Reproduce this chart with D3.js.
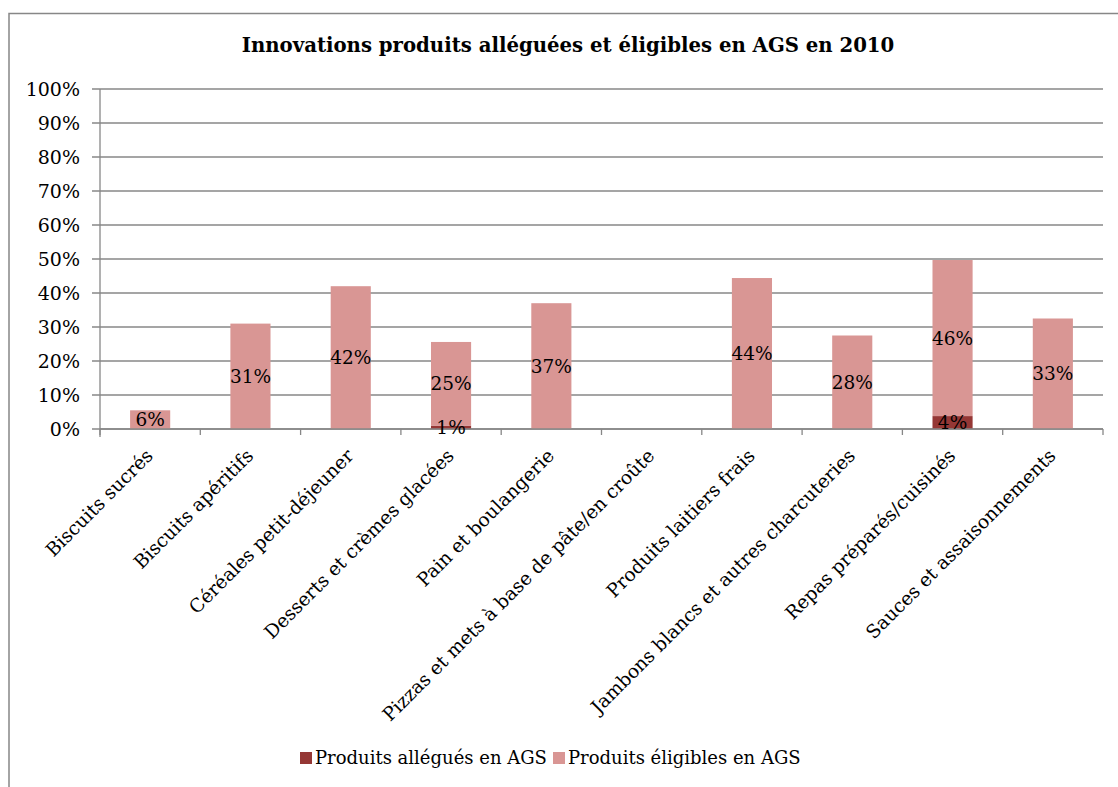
<!DOCTYPE html>
<html>
<head>
<meta charset="utf-8">
<script src="https://cdn.jsdelivr.net/npm/d3@7"></script>
<style>
  body { margin: 0; background: #fff; }
  text { font-family: "DejaVu Serif", "Liberation Serif", serif; }
</style>
</head>
<body>
<svg id="chart"></svg>
<script>
const categories = ["Biscuits sucrés", "Biscuits apéritifs", "Céréales petit-déjeuner",
  "Desserts et crèmes glacées", "Pain et boulangerie", "Pizzas et mets à base de pâte/en croûte",
  "Produits laitiers frais", "Jambons blancs et autres charcuteries", "Repas préparés/cuisinés",
  "Sauces et assaisonnements"]
const allegues = [0, 0, 0, 0.01, 0, 0, 0, 0, 0.038, 0]
const eligibles = [0.055, 0.31, 0.42, 0.246, 0.37, 0, 0.444, 0.275, 0.459, 0.325]
const seriesNames = ["Produits allégués en AGS", "Produits éligibles en AGS"]
const seriesColors = ["#953735", "#D99694"]
const yTicks = [0, 0.1, 0.2, 0.3, 0.4, 0.5, 0.6, 0.7, 0.8, 0.9, 1]

const width = 1118, height = 787
const margin = { left: 100, right: 15, top: 89, bottom: 358 }
const grid = "#878787"
const fontFam = "'DejaVu Serif', serif"

const svg = d3.select("#chart").attr("width", width).attr("height", height)

// outer frame (cropped on the right and bottom)
svg.append("path")
  .attr("d", `M9,${height + 2} V13.5 H${width + 2}`)
  .style("fill", "none").style("stroke", grid).style("stroke-width", 1.5)

svg.append("text")
  .attr("x", 568).attr("y", 52)
  .attr("text-anchor", "middle")
  .style("font-size", "19.7px").style("font-weight", "bold")
  .style("font-family", fontFam)
  .text("Innovations produits alléguées et éligibles en AGS en 2010")

const x = d3.scaleBand().domain(categories).range([margin.left, width - margin.right]).paddingInner(0.6).paddingOuter(0.3)
const y = d3.scaleLinear().domain([0, 1]).range([height - margin.bottom, margin.top])

const g = svg.append("g")

// gridlines
g.selectAll("line.grid").data(yTicks).join("line")
  .attr("class", "grid")
  .attr("x1", margin.left - 8).attr("x2", width - margin.right)
  .attr("y1", d => y(d)).attr("y2", d => y(d))
  .style("stroke", grid).style("stroke-width", 1.3)

// y labels
g.selectAll("text.ylab").data(yTicks).join("text")
  .attr("class", "ylab")
  .attr("x", 80).attr("y", d => y(d)).attr("dy", "0.36em")
  .attr("text-anchor", "end")
  .style("font-size", "19px").style("font-family", fontFam).style("fill", "#000")
  .text(d3.format(".0%"))

// stacked bars
const rows = categories.map((c, i) => ({ cat: c, a: allegues[i], e: eligibles[i] }))
const stack = d3.stack().keys(["a", "e"])(rows)

stack.forEach((layer, k) => {
  g.selectAll(`rect.s${k}`).data(layer).join("rect")
    .attr("class", `s${k}`)
    .attr("x", d => x(d.data.cat))
    .attr("width", x.bandwidth())
    .attr("y", d => y(d[1]))
    .attr("height", d => y(d[0]) - y(d[1]))
    .style("fill", seriesColors[k])
})

// axes lines
const y0 = y(0)
g.append("line").attr("x1", margin.left).attr("x2", margin.left).attr("y1", margin.top).attr("y2", y0 + 8)
  .style("stroke", grid).style("stroke-width", 1.3)
g.append("line").attr("x1", margin.left).attr("x2", width - margin.right).attr("y1", y0).attr("y2", y0)
  .style("stroke", grid).style("stroke-width", 1.3)
const step = x.step()
g.selectAll("line.tick").data(d3.range(categories.length + 1)).join("line")
  .attr("class", "tick")
  .attr("x1", i => margin.left + i * step).attr("x2", i => margin.left + i * step)
  .attr("y1", y0).attr("y2", y0 + 6)
  .style("stroke", grid).style("stroke-width", 1.3)

// value labels
stack.forEach((layer, k) => {
  g.selectAll(`text.v${k}`).data(layer.filter(d => d[1] - d[0] > 0)).join("text")
    .attr("class", `v${k}`)
    .attr("x", d => x(d.data.cat) + x.bandwidth() / 2)
    .attr("y", d => (y(d[0]) + y(d[1])) / 2).attr("dy", "0.36em")
    .attr("text-anchor", "middle")
    .style("font-size", "18.5px").style("font-family", fontFam).style("fill", "#000")
    .text(d => Math.round((d[1] - d[0]) * 100) + "%")
})

// category labels
g.selectAll("text.cat").data(categories).join("text")
  .attr("class", "cat")
  .attr("transform", d => `translate(${x(d) + x.bandwidth() / 2 + 4},${y0 + 28}) rotate(-45)`)
  .attr("text-anchor", "end")
  .style("font-size", "18.7px").style("font-family", fontFam).style("fill", "#000")
  .text(d => d)

// legend
const legend = svg.append("g").attr("transform", "translate(300,758)")
const lx = [0, 253]
seriesNames.forEach((n, i) => {
  legend.append("rect").attr("x", lx[i]).attr("y", -6).attr("width", 12).attr("height", 12).style("fill", seriesColors[i])
  legend.append("text").attr("x", lx[i] + 15).attr("y", 0).attr("dy", "0.36em")
    .style("font-size", "18px").style("font-family", fontFam).text(n)
})
</script>
</body>
</html>
